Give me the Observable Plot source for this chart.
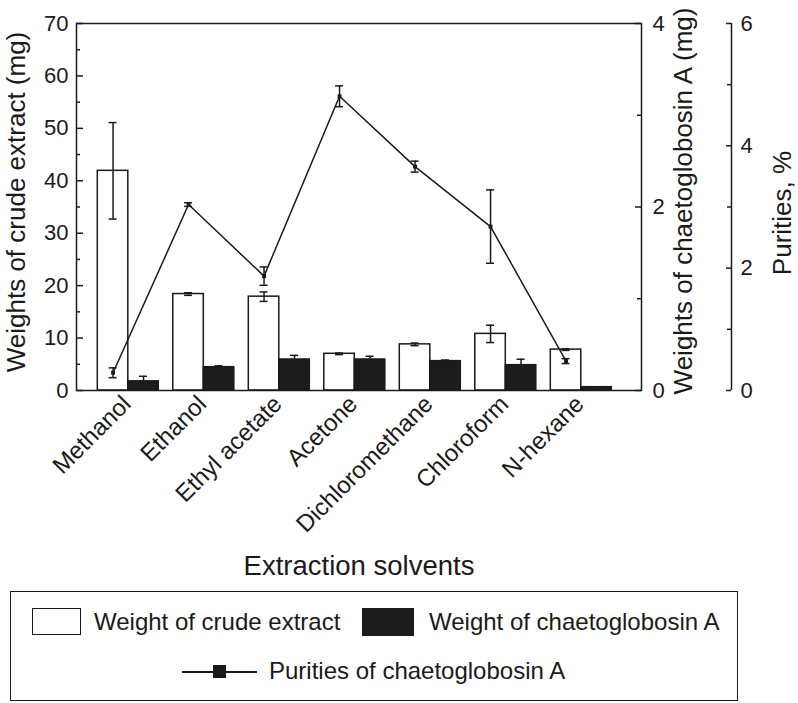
<!DOCTYPE html>
<html>
<head>
<meta charset="utf-8">
<script src="https://cdn.jsdelivr.net/npm/d3@7"></script>
<script src="https://cdn.jsdelivr.net/npm/@observablehq/plot@0.6"></script>
<style>
  body { margin: 0; background: #fff; font-family: "Liberation Sans", Arial, Helvetica, sans-serif; color: #1a1a1a; }
  #legend { position: relative; margin-left: 10px; width: 726px; height: 108px; border: 1.5px solid #1a1a1a; font-size: 24px; }
  #legend div { position: absolute; }
  #legend .lbl { line-height: 28px; white-space: nowrap; }
</style>
</head>
<body>
<div id="vis"></div>
<div id="legend">
  <div style="left:21px; top:16px; width:47px; height:25px; border:1.5px solid #1a1a1a; background:#fff"></div>
  <div class="lbl" style="left:83px; top:16px">Weight of crude extract</div>
  <div style="left:351px; top:16px; width:52px; height:28px; background:#1c1c1c"></div>
  <div class="lbl" style="left:418px; top:16px">Weight of chaetoglobosin A</div>
  <div style="left:171px; top:79px; width:75px; height:1.6px; background:#1a1a1a"></div>
  <div style="left:202px; top:73px; width:13px; height:13px; background:#1a1a1a"></div>
  <div class="lbl" style="left:258px; top:65px">Purities of chaetoglobosin A</div>
</div>
<script>
const solvents = ['Methanol', 'Ethanol', 'Ethyl acetate', 'Acetone', 'Dichloromethane', 'Chloroform', 'N-hexane']
const crude = [41.9, 18.4, 17.9, 7.0, 8.8, 10.8, 7.8]          // mg
const crudeErr = [9.2, 0.25, 0.9, 0.15, 0.25, 1.65, 0.15]
const chaeto = [0.10, 0.254, 0.338, 0.338, 0.32, 0.276, 0.036] // mg
const chaetoErr = [0.055, 0.015, 0.045, 0.035, 0.012, 0.065, 0.004]
const purity = [0.29, 3.04, 1.87, 4.81, 3.66, 2.68, 0.48]     // %
const purityErr = [0.08, 0.03, 0.15, 0.17, 0.09, 0.6, 0.04]

// axis ticks
const leftMajor = [0, 10, 20, 30, 40, 50, 60, 70]
const leftMinor = [5, 15, 25, 35, 45, 55, 65]
const chaetoMajor = [0, 2, 4]
const chaetoMinor = [1, 3]
const purityMajor = [0, 2, 4, 6]
const purityMinor = [1, 3, 5]

// everything is drawn on the crude-extract scale (0-70)
const fromMg = v => v * 70 / 4
const fromPct = v => v * 70 / 6

const table = solvents.map((s, i) => ({
  solvent: s,
  crude: crude[i], crudeErr: crudeErr[i],
  chaeto: fromMg(chaeto[i]), chaetoErr: fromMg(chaetoErr[i]),
  purity: fromPct(purity[i]), purityErr: fromPct(purityErr[i])
}))

const W = 798, H = 591
const mL = 76, mR = 157, mT = 23, mB = 201
const frameW = W - mL - mR
const bw = 61          // width of a pair of bars
const half = bw / 2
const ink = '#1a1a1a'
const sw = 1.5
const axis2 = 90       // purity axis, px right of the frame

const cap = (center, w = 8) => ({insetLeft: center - w / 2, insetRight: bw - center - w / 2})

let chart = Plot.plot({
  width: W,
  height: H,
  marginLeft: mL,
  marginRight: mR,
  marginTop: mT,
  marginBottom: mB,
  x: {type: 'band', domain: solvents, range: [97.3, 611.3], paddingInner: 0.192, paddingOuter: 0, round: false, axis: null},
  y: {domain: [0, 70], axis: null},
  style: {fontFamily: '"Liberation Sans", Arial, Helvetica, sans-serif', color: ink, background: '#fff'},
  marks: [
    Plot.barY(table, {x: 'solvent', y: 'crude', fill: '#fff', stroke: ink, strokeWidth: sw, insetRight: half}),
    Plot.barY(table, {x: 'solvent', y: 'chaeto', fill: '#1c1c1c', stroke: ink, strokeWidth: sw, insetLeft: half}),

    // error bars on the bars
    Plot.ruleX(table, {x: 'solvent', y1: d => d.crude - d.crudeErr, y2: d => d.crude + d.crudeErr, dx: -half / 2, stroke: ink, strokeWidth: sw}),
    Plot.tickY(table, {x: 'solvent', y: d => d.crude + d.crudeErr, ...cap(half / 2), stroke: ink, strokeWidth: sw}),
    Plot.tickY(table, {x: 'solvent', y: d => d.crude - d.crudeErr, ...cap(half / 2), stroke: ink, strokeWidth: sw}),
    Plot.ruleX(table, {x: 'solvent', y1: 'chaeto', y2: d => d.chaeto + d.chaetoErr, dx: half / 2, stroke: ink, strokeWidth: sw}),
    Plot.tickY(table, {x: 'solvent', y: d => d.chaeto + d.chaetoErr, ...cap(half * 1.5), stroke: ink, strokeWidth: sw}),

    // purity line
    Plot.line(table, {x: 'solvent', y: 'purity', dx: -half / 2, stroke: ink, strokeWidth: sw}),
    Plot.ruleX(table, {x: 'solvent', y1: d => d.purity - d.purityErr, y2: d => d.purity + d.purityErr, dx: -half / 2, stroke: ink, strokeWidth: sw}),
    Plot.tickY(table, {x: 'solvent', y: d => d.purity + d.purityErr, ...cap(half / 2), stroke: ink, strokeWidth: sw}),
    Plot.tickY(table, {x: 'solvent', y: d => d.purity - d.purityErr, ...cap(half / 2), stroke: ink, strokeWidth: sw}),
    Plot.dot(table, {x: 'solvent', y: 'purity', dx: -half / 2, symbol: 'square', r: 2.2, fill: ink}),

    Plot.frame({stroke: ink, strokeWidth: sw}),

    // left axis
    Plot.tickY(leftMajor, {y: d => d, insetRight: frameW - 7, stroke: ink, strokeWidth: sw}),
    Plot.tickY(leftMinor, {y: d => d, insetRight: frameW - 4, stroke: ink, strokeWidth: sw}),
    Plot.text(leftMajor, {y: d => d, text: d => `${d}`, frameAnchor: 'left', textAnchor: 'end', dx: -8, fontSize: 22}),
    Plot.text(['Weights of crude extract (mg)'], {frameAnchor: 'left', textAnchor: 'middle', rotate: -90, dx: -60, dy: -5, fontSize: 26}),

    // chaetoglobosin A axis (frame right edge)
    Plot.tickY(chaetoMajor, {y: d => fromMg(d), insetLeft: frameW - 6, stroke: ink, strokeWidth: sw}),
    Plot.tickY(chaetoMinor, {y: d => fromMg(d), insetLeft: frameW - 4, stroke: ink, strokeWidth: sw}),
    Plot.text(chaetoMajor, {y: d => fromMg(d), text: d => `${d}`, frameAnchor: 'right', textAnchor: 'start', dx: 11, fontSize: 22}),
    Plot.text(['Weights of chaetoglobosin A (mg)'], {frameAnchor: 'right', textAnchor: 'middle', rotate: -90, dx: 42, dy: -6, fontSize: 26}),

    // purity axis, further right
    Plot.ruleX([solvents[6]], {x: d => d, y1: 0, y2: 70, dx: 150.2, stroke: ink, strokeWidth: sw}),
    Plot.tickY(purityMajor, {y: d => fromPct(d), insetLeft: frameW + axis2 - 5, insetRight: -axis2, stroke: ink, strokeWidth: sw}),
    Plot.tickY(purityMinor, {y: d => fromPct(d), insetLeft: frameW + axis2 - 4, insetRight: -axis2, stroke: ink, strokeWidth: sw}),
    Plot.text(purityMajor, {y: d => fromPct(d), text: d => `${d}`, frameAnchor: 'right', textAnchor: 'start', dx: axis2 + 9, fontSize: 22}),
    Plot.text(['Purities, %'], {frameAnchor: 'right', textAnchor: 'middle', rotate: -90, dx: 141, dy: 6, fontSize: 26}),

    // category labels
    Plot.text(solvents, {x: d => d, text: d => d, frameAnchor: 'bottom', rotate: -45, textAnchor: 'end', dx: 4, dy: 15, fontSize: 24}),
    Plot.text(['Extraction solvents'], {frameAnchor: 'bottom', dy: 184, fontSize: 27.5})
  ]
})
d3.select('#vis').append(() => chart)
</script>
</body>
</html>
